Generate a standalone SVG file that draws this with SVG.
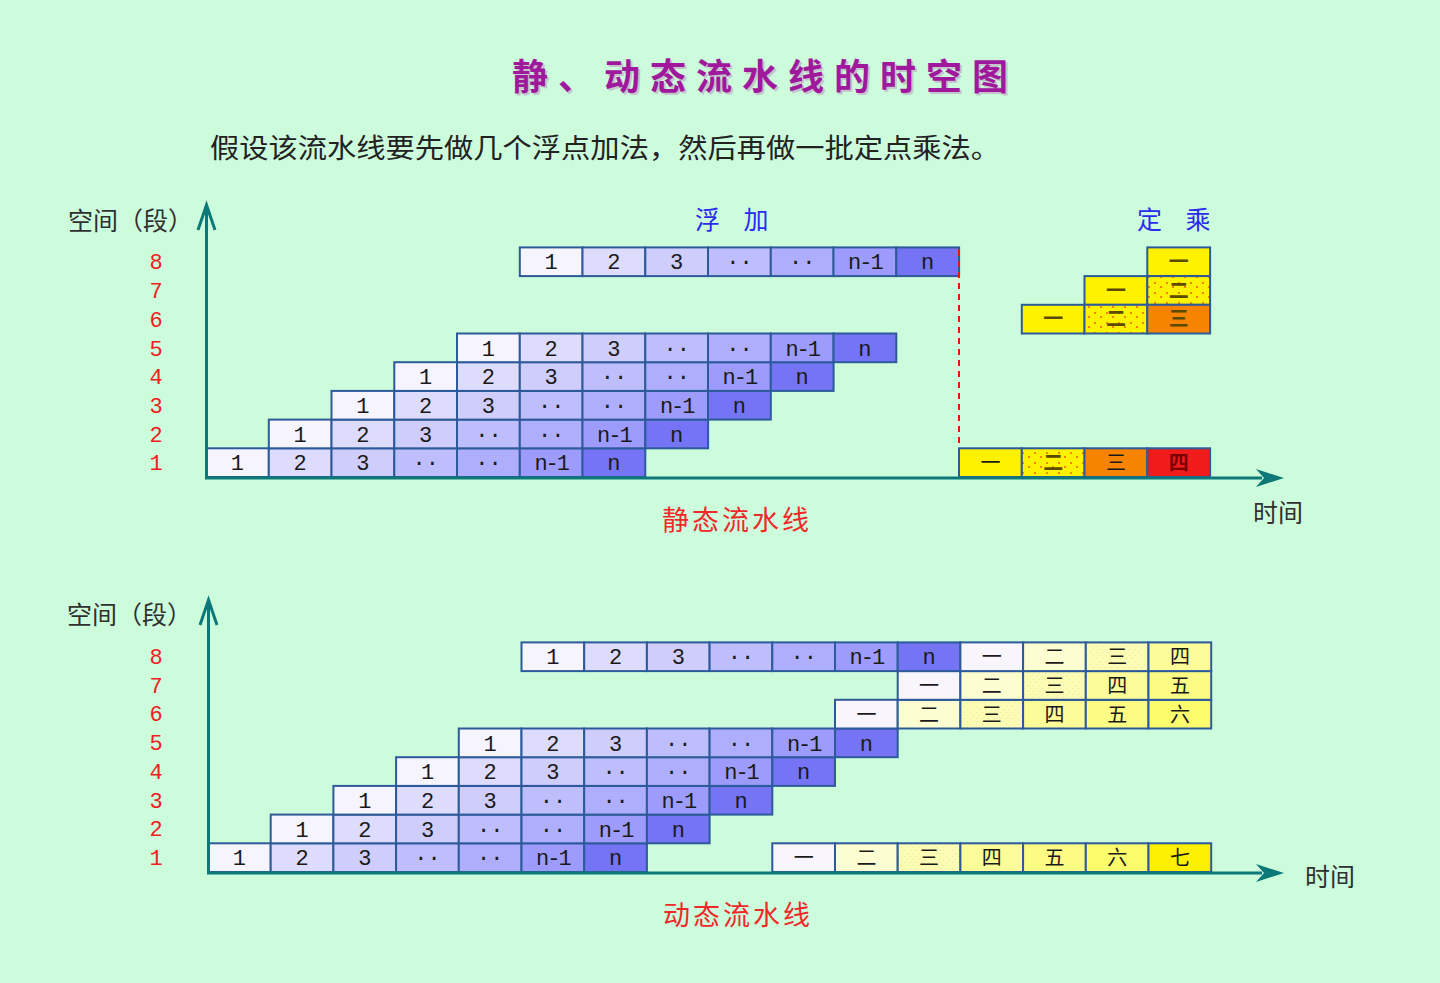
<svg xmlns="http://www.w3.org/2000/svg" width="1440" height="983" viewBox="0 0 1440 983">
<defs>
<pattern id="dots" width="12" height="10" patternUnits="userSpaceOnUse"><rect width="12" height="10" fill="#fff200"/><rect x="2" y="2" width="2" height="2" fill="#f78400"/><rect x="8" y="6" width="2" height="2" fill="#f78400"/></pattern>
<pattern id="ldots" width="6" height="6" patternUnits="userSpaceOnUse"><rect width="6" height="6" fill="#fcfcb4"/><rect x="1" y="1" width="1" height="1" fill="#eaea9a"/><rect x="4" y="4" width="1" height="1" fill="#eaea9a"/></pattern>
<style>
g rect{stroke:#2d5a9a;stroke-width:2}
.b1{fill:#f6f4fc}.b2{fill:#dedcfc}.b3{fill:#cfcdfc}.b4{fill:#bfbefc}.b5{fill:#afaefc}.b6{fill:#9d9cfc}.b7{fill:#7474f4}
.y1{fill:#fff200}.y2{fill:url(#dots)}.y3{fill:#f78400}.y4{fill:#f01c1c}
.z1{fill:#f8f6fc}.z2{fill:#fdfdd2}.z3{fill:url(#ldots)}.z4{fill:#fcfc98}.z5{fill:#fcfc84}.z6{fill:#fcfc6c}.z7{fill:#fcf000}
text{text-anchor:middle}
.t{font-family:"Liberation Mono",monospace;font-size:22px;fill:#1a1a1a}
.n1{letter-spacing:-2px}
.h{font-family:"Noto Sans CJK SC",sans-serif;font-size:20px;fill:#1a1a1a}
.hy{font-family:"Noto Sans CJK SC",sans-serif;font-size:20px;fill:#5c4a00;font-weight:bold}
.hr{font-family:"Noto Sans CJK SC",sans-serif;font-size:20px;fill:#7a0000;font-weight:bold}
.rn{font-family:"Liberation Mono",monospace;font-size:22px;fill:#f02020}
.lab{font-family:"Noto Sans CJK SC",sans-serif;font-size:25px;fill:#303030;text-anchor:start}
.blue{font-family:"Noto Sans CJK SC",sans-serif;font-size:25px;fill:#2a2af0;text-anchor:start;letter-spacing:9px}
.red{font-family:"Noto Sans CJK SC",sans-serif;font-size:27px;fill:#f02828;text-anchor:start;letter-spacing:3px}
.ax{stroke:#0c7878;stroke-width:3;fill:none}
.ah{fill:#0c7878}
</style>
</defs>
<rect x="0" y="0" width="1440" height="983" fill="#ccfcdc"/>

<g id="title">
<text x="765" y="90" style="font-family:'Noto Sans CJK SC',sans-serif;font-size:36px;font-weight:bold;fill:#c4c4cc;letter-spacing:10px" transform="translate(2,2)">静、动态流水线的时空图</text>
<text x="765" y="90" style="font-family:'Noto Sans CJK SC',sans-serif;font-size:36px;font-weight:bold;fill:#a0189c;letter-spacing:10px">静、动态流水线的时空图</text>
</g>
<g id="subtitle"><text x="210" y="158" textLength="790" lengthAdjust="spacingAndGlyphs" style="font-family:'Noto Sans CJK SC',sans-serif;font-size:27px;fill:#222;text-anchor:start">假设该流水线要先做几个浮点加法，然后再做一批定点乘法。</text></g>

<!-- ===== STATIC ===== -->
<g id="static-labels">
<text class="lab" x="68" y="230">空间（段）</text>
<text class="rn" x="156" y="269">8</text><text class="rn" x="156" y="298">7</text><text class="rn" x="156" y="327">6</text><text class="rn" x="156" y="356">5</text><text class="rn" x="156" y="384">4</text><text class="rn" x="156" y="413">3</text><text class="rn" x="156" y="442">2</text><text class="rn" x="156" y="470">1</text>
<text class="blue" x="695" y="229">浮 加</text>
<text class="blue" x="1137" y="229">定 乘</text>
<text class="red" x="662" y="530">静态流水线</text>
<text class="lab" x="1253" y="522">时间</text>
</g>

<g id="s-r1">
<g id="s-r1-1"><rect class="b1" x="206" y="448.3" width="62.8" height="28.7"/><text class="t" x="237.4" y="470.3">1</text></g>
<g id="s-r1-2"><rect class="b2" x="268.8" y="448.3" width="62.8" height="28.7"/><text class="t" x="300.2" y="470.3">2</text></g>
<g id="s-r1-3"><rect class="b3" x="331.5" y="448.3" width="62.8" height="28.7"/><text class="t" x="362.9" y="470.3">3</text></g>
<g id="s-r1-4"><rect class="b4" x="394.3" y="448.3" width="62.8" height="28.7"/><text class="t" x="425.7" y="470.3">··</text></g>
<g id="s-r1-5"><rect class="b5" x="457" y="448.3" width="62.8" height="28.7"/><text class="t" x="488.4" y="470.3">··</text></g>
<g id="s-r1-6"><rect class="b6" x="519.8" y="448.3" width="62.8" height="28.7"/><text class="t n1" x="551.2" y="470.3">n-1</text></g>
<g id="s-r1-7"><rect class="b7" x="582.5" y="448.3" width="62.8" height="28.7"/><text class="t" x="613.9" y="470.3">n</text></g>
</g>
<g id="s-r2">
<g id="s-r2-1"><rect class="b1" x="268.8" y="419.6" width="62.8" height="28.7"/><text class="t" x="300.2" y="441.6">1</text></g>
<g id="s-r2-2"><rect class="b2" x="331.5" y="419.6" width="62.8" height="28.7"/><text class="t" x="362.9" y="441.6">2</text></g>
<g id="s-r2-3"><rect class="b3" x="394.3" y="419.6" width="62.8" height="28.7"/><text class="t" x="425.7" y="441.6">3</text></g>
<g id="s-r2-4"><rect class="b4" x="457" y="419.6" width="62.8" height="28.7"/><text class="t" x="488.4" y="441.6">··</text></g>
<g id="s-r2-5"><rect class="b5" x="519.8" y="419.6" width="62.8" height="28.7"/><text class="t" x="551.2" y="441.6">··</text></g>
<g id="s-r2-6"><rect class="b6" x="582.5" y="419.6" width="62.8" height="28.7"/><text class="t n1" x="613.9" y="441.6">n-1</text></g>
<g id="s-r2-7"><rect class="b7" x="645.3" y="419.6" width="62.8" height="28.7"/><text class="t" x="676.7" y="441.6">n</text></g>
</g>
<g id="s-r3">
<g id="s-r3-1"><rect class="b1" x="331.5" y="390.9" width="62.8" height="28.7"/><text class="t" x="362.9" y="412.9">1</text></g>
<g id="s-r3-2"><rect class="b2" x="394.3" y="390.9" width="62.8" height="28.7"/><text class="t" x="425.7" y="412.9">2</text></g>
<g id="s-r3-3"><rect class="b3" x="457" y="390.9" width="62.8" height="28.7"/><text class="t" x="488.4" y="412.9">3</text></g>
<g id="s-r3-4"><rect class="b4" x="519.8" y="390.9" width="62.8" height="28.7"/><text class="t" x="551.2" y="412.9">··</text></g>
<g id="s-r3-5"><rect class="b5" x="582.5" y="390.9" width="62.8" height="28.7"/><text class="t" x="613.9" y="412.9">··</text></g>
<g id="s-r3-6"><rect class="b6" x="645.3" y="390.9" width="62.8" height="28.7"/><text class="t n1" x="676.7" y="412.9">n-1</text></g>
<g id="s-r3-7"><rect class="b7" x="708" y="390.9" width="62.8" height="28.7"/><text class="t" x="739.4" y="412.9">n</text></g>
</g>
<g id="s-r4">
<g id="s-r4-1"><rect class="b1" x="394.3" y="362.2" width="62.8" height="28.7"/><text class="t" x="425.7" y="384.2">1</text></g>
<g id="s-r4-2"><rect class="b2" x="457" y="362.2" width="62.8" height="28.7"/><text class="t" x="488.4" y="384.2">2</text></g>
<g id="s-r4-3"><rect class="b3" x="519.8" y="362.2" width="62.8" height="28.7"/><text class="t" x="551.2" y="384.2">3</text></g>
<g id="s-r4-4"><rect class="b4" x="582.5" y="362.2" width="62.8" height="28.7"/><text class="t" x="613.9" y="384.2">··</text></g>
<g id="s-r4-5"><rect class="b5" x="645.3" y="362.2" width="62.8" height="28.7"/><text class="t" x="676.7" y="384.2">··</text></g>
<g id="s-r4-6"><rect class="b6" x="708" y="362.2" width="62.8" height="28.7"/><text class="t n1" x="739.4" y="384.2">n-1</text></g>
<g id="s-r4-7"><rect class="b7" x="770.8" y="362.2" width="62.8" height="28.7"/><text class="t" x="802.2" y="384.2">n</text></g>
</g>
<g id="s-r5">
<g id="s-r5-1"><rect class="b1" x="457" y="333.5" width="62.8" height="28.7"/><text class="t" x="488.4" y="355.5">1</text></g>
<g id="s-r5-2"><rect class="b2" x="519.8" y="333.5" width="62.8" height="28.7"/><text class="t" x="551.2" y="355.5">2</text></g>
<g id="s-r5-3"><rect class="b3" x="582.5" y="333.5" width="62.8" height="28.7"/><text class="t" x="613.9" y="355.5">3</text></g>
<g id="s-r5-4"><rect class="b4" x="645.3" y="333.5" width="62.8" height="28.7"/><text class="t" x="676.7" y="355.5">··</text></g>
<g id="s-r5-5"><rect class="b5" x="708" y="333.5" width="62.8" height="28.7"/><text class="t" x="739.4" y="355.5">··</text></g>
<g id="s-r5-6"><rect class="b6" x="770.8" y="333.5" width="62.8" height="28.7"/><text class="t n1" x="802.2" y="355.5">n-1</text></g>
<g id="s-r5-7"><rect class="b7" x="833.5" y="333.5" width="62.8" height="28.7"/><text class="t" x="864.9" y="355.5">n</text></g>
</g>
<g id="s-r8">
<g id="s-r8-1"><rect class="b1" x="519.8" y="247.4" width="62.8" height="28.7"/><text class="t" x="551.2" y="269.4">1</text></g>
<g id="s-r8-2"><rect class="b2" x="582.5" y="247.4" width="62.8" height="28.7"/><text class="t" x="613.9" y="269.4">2</text></g>
<g id="s-r8-3"><rect class="b3" x="645.3" y="247.4" width="62.8" height="28.7"/><text class="t" x="676.7" y="269.4">3</text></g>
<g id="s-r8-4"><rect class="b4" x="708" y="247.4" width="62.8" height="28.7"/><text class="t" x="739.4" y="269.4">··</text></g>
<g id="s-r8-5"><rect class="b5" x="770.8" y="247.4" width="62.8" height="28.7"/><text class="t" x="802.2" y="269.4">··</text></g>
<g id="s-r8-6"><rect class="b6" x="833.5" y="247.4" width="62.8" height="28.7"/><text class="t n1" x="864.9" y="269.4">n-1</text></g>
<g id="s-r8-7"><rect class="b7" x="896.3" y="247.4" width="62.8" height="28.7"/><text class="t" x="927.7" y="269.4">n</text></g>
</g>
<g id="s-mul">
<g id="s-m8-1"><rect class="y1" x="1147.3" y="247.4" width="62.8" height="28.7"/><text class="hy" x="1178.7" y="269">一</text></g>
<g id="s-m7-1"><rect class="y1" x="1084.5" y="276.1" width="62.8" height="28.7"/><text class="hy" x="1115.9" y="297.7">一</text></g>
<g id="s-m7-2"><rect class="y2" x="1147.3" y="276.1" width="62.8" height="28.7"/><text class="hy" x="1178.7" y="297.7">二</text></g>
<g id="s-m6-1"><rect class="y1" x="1021.8" y="304.8" width="62.8" height="28.7"/><text class="hy" x="1053.2" y="326.4">一</text></g>
<g id="s-m6-2"><rect class="y2" x="1084.5" y="304.8" width="62.8" height="28.7"/><text class="hy" x="1115.9" y="326.4">二</text></g>
<g id="s-m6-3"><rect class="y3" x="1147.3" y="304.8" width="62.8" height="28.7"/><text class="hy" x="1178.7" y="326.4">三</text></g>
<g id="s-m1-1"><rect class="y1" x="959" y="448.3" width="62.8" height="28.7"/><text class="h" x="990.4" y="469.9">一</text></g>
<g id="s-m1-2"><rect class="y2" x="1021.8" y="448.3" width="62.8" height="28.7"/><text class="hy" x="1053.2" y="469.9">二</text></g>
<g id="s-m1-3"><rect class="y3" x="1084.5" y="448.3" width="62.8" height="28.7"/><text class="h" x="1115.9" y="469.9">三</text></g>
<g id="s-m1-4"><rect class="y4" x="1147.3" y="448.3" width="62.8" height="28.7"/><text class="hr" x="1178.7" y="469.9">四</text></g>
</g>

<g id="static-connectors">
<line x1="959" y1="250" x2="959" y2="448" stroke="#f01010" stroke-width="2" stroke-dasharray="6,5"/>
<path class="ax" d="M206.5,207 V478 H1262"/>
<path class="ax" d="M198,230 L206.5,205 L215,230"/>
<polygon class="ah" points="1284,478 1256,469 1264,478 1256,487"/>
</g>

<!-- ===== DYNAMIC ===== -->
<g id="dynamic-labels">
<text class="lab" x="67" y="624">空间（段）</text>
<text class="rn" x="156" y="664">8</text><text class="rn" x="156" y="693">7</text><text class="rn" x="156" y="721">6</text><text class="rn" x="156" y="750">5</text><text class="rn" x="156" y="779">4</text><text class="rn" x="156" y="808">3</text><text class="rn" x="156" y="836">2</text><text class="rn" x="156" y="865">1</text>
<text class="red" x="663" y="925">动态流水线</text>
<text class="lab" x="1305" y="886">时间</text>
</g>

<g id="d-r1">
<g id="d-r1-1"><rect class="b1" x="208" y="843.3" width="62.7" height="28.7"/><text class="t" x="239.4" y="865.3">1</text></g>
<g id="d-r1-2"><rect class="b2" x="270.7" y="843.3" width="62.7" height="28.7"/><text class="t" x="302.1" y="865.3">2</text></g>
<g id="d-r1-3"><rect class="b3" x="333.4" y="843.3" width="62.7" height="28.7"/><text class="t" x="364.8" y="865.3">3</text></g>
<g id="d-r1-4"><rect class="b4" x="396.1" y="843.3" width="62.7" height="28.7"/><text class="t" x="427.5" y="865.3">··</text></g>
<g id="d-r1-5"><rect class="b5" x="458.8" y="843.3" width="62.7" height="28.7"/><text class="t" x="490.2" y="865.3">··</text></g>
<g id="d-r1-6"><rect class="b6" x="521.5" y="843.3" width="62.7" height="28.7"/><text class="t n1" x="552.9" y="865.3">n-1</text></g>
<g id="d-r1-7"><rect class="b7" x="584.2" y="843.3" width="62.7" height="28.7"/><text class="t" x="615.6" y="865.3">n</text></g>
<g id="d-r1-8"><rect class="z1" x="772.3" y="843.3" width="62.7" height="28.7"/><text class="h" x="803.7" y="865">一</text></g>
<g id="d-r1-9"><rect class="z2" x="835" y="843.3" width="62.7" height="28.7"/><text class="h" x="866.4" y="865">二</text></g>
<g id="d-r1-10"><rect class="z3" x="897.7" y="843.3" width="62.7" height="28.7"/><text class="h" x="929.1" y="865">三</text></g>
<g id="d-r1-11"><rect class="z4" x="960.4" y="843.3" width="62.7" height="28.7"/><text class="h" x="991.8" y="865">四</text></g>
<g id="d-r1-12"><rect class="z5" x="1023.1" y="843.3" width="62.7" height="28.7"/><text class="h" x="1054.5" y="865">五</text></g>
<g id="d-r1-13"><rect class="z6" x="1085.8" y="843.3" width="62.7" height="28.7"/><text class="h" x="1117.2" y="865">六</text></g>
<g id="d-r1-14"><rect class="z7" x="1148.5" y="843.3" width="62.7" height="28.7"/><text class="h" x="1179.9" y="865">七</text></g>
</g>
<g id="d-r2">
<g id="d-r2-1"><rect class="b1" x="270.7" y="814.6" width="62.7" height="28.7"/><text class="t" x="302.1" y="836.6">1</text></g>
<g id="d-r2-2"><rect class="b2" x="333.4" y="814.6" width="62.7" height="28.7"/><text class="t" x="364.8" y="836.6">2</text></g>
<g id="d-r2-3"><rect class="b3" x="396.1" y="814.6" width="62.7" height="28.7"/><text class="t" x="427.5" y="836.6">3</text></g>
<g id="d-r2-4"><rect class="b4" x="458.8" y="814.6" width="62.7" height="28.7"/><text class="t" x="490.2" y="836.6">··</text></g>
<g id="d-r2-5"><rect class="b5" x="521.5" y="814.6" width="62.7" height="28.7"/><text class="t" x="552.9" y="836.6">··</text></g>
<g id="d-r2-6"><rect class="b6" x="584.2" y="814.6" width="62.7" height="28.7"/><text class="t n1" x="615.6" y="836.6">n-1</text></g>
<g id="d-r2-7"><rect class="b7" x="646.9" y="814.6" width="62.7" height="28.7"/><text class="t" x="678.3" y="836.6">n</text></g>
</g>
<g id="d-r3">
<g id="d-r3-1"><rect class="b1" x="333.4" y="785.9" width="62.7" height="28.7"/><text class="t" x="364.8" y="807.9">1</text></g>
<g id="d-r3-2"><rect class="b2" x="396.1" y="785.9" width="62.7" height="28.7"/><text class="t" x="427.5" y="807.9">2</text></g>
<g id="d-r3-3"><rect class="b3" x="458.8" y="785.9" width="62.7" height="28.7"/><text class="t" x="490.2" y="807.9">3</text></g>
<g id="d-r3-4"><rect class="b4" x="521.5" y="785.9" width="62.7" height="28.7"/><text class="t" x="552.9" y="807.9">··</text></g>
<g id="d-r3-5"><rect class="b5" x="584.2" y="785.9" width="62.7" height="28.7"/><text class="t" x="615.6" y="807.9">··</text></g>
<g id="d-r3-6"><rect class="b6" x="646.9" y="785.9" width="62.7" height="28.7"/><text class="t n1" x="678.3" y="807.9">n-1</text></g>
<g id="d-r3-7"><rect class="b7" x="709.6" y="785.9" width="62.7" height="28.7"/><text class="t" x="741" y="807.9">n</text></g>
</g>
<g id="d-r4">
<g id="d-r4-1"><rect class="b1" x="396.1" y="757.2" width="62.7" height="28.7"/><text class="t" x="427.5" y="779.2">1</text></g>
<g id="d-r4-2"><rect class="b2" x="458.8" y="757.2" width="62.7" height="28.7"/><text class="t" x="490.2" y="779.2">2</text></g>
<g id="d-r4-3"><rect class="b3" x="521.5" y="757.2" width="62.7" height="28.7"/><text class="t" x="552.9" y="779.2">3</text></g>
<g id="d-r4-4"><rect class="b4" x="584.2" y="757.2" width="62.7" height="28.7"/><text class="t" x="615.6" y="779.2">··</text></g>
<g id="d-r4-5"><rect class="b5" x="646.9" y="757.2" width="62.7" height="28.7"/><text class="t" x="678.3" y="779.2">··</text></g>
<g id="d-r4-6"><rect class="b6" x="709.6" y="757.2" width="62.7" height="28.7"/><text class="t n1" x="741" y="779.2">n-1</text></g>
<g id="d-r4-7"><rect class="b7" x="772.3" y="757.2" width="62.7" height="28.7"/><text class="t" x="803.7" y="779.2">n</text></g>
</g>
<g id="d-r5">
<g id="d-r5-1"><rect class="b1" x="458.8" y="728.5" width="62.7" height="28.7"/><text class="t" x="490.2" y="750.5">1</text></g>
<g id="d-r5-2"><rect class="b2" x="521.5" y="728.5" width="62.7" height="28.7"/><text class="t" x="552.9" y="750.5">2</text></g>
<g id="d-r5-3"><rect class="b3" x="584.2" y="728.5" width="62.7" height="28.7"/><text class="t" x="615.6" y="750.5">3</text></g>
<g id="d-r5-4"><rect class="b4" x="646.9" y="728.5" width="62.7" height="28.7"/><text class="t" x="678.3" y="750.5">··</text></g>
<g id="d-r5-5"><rect class="b5" x="709.6" y="728.5" width="62.7" height="28.7"/><text class="t" x="741" y="750.5">··</text></g>
<g id="d-r5-6"><rect class="b6" x="772.3" y="728.5" width="62.7" height="28.7"/><text class="t n1" x="803.7" y="750.5">n-1</text></g>
<g id="d-r5-7"><rect class="b7" x="835" y="728.5" width="62.7" height="28.7"/><text class="t" x="866.4" y="750.5">n</text></g>
</g>
<g id="d-r6">
<g id="d-r6-1"><rect class="z1" x="835" y="699.8" width="62.7" height="28.7"/><text class="h" x="866.4" y="721.5">一</text></g>
<g id="d-r6-2"><rect class="z2" x="897.7" y="699.8" width="62.7" height="28.7"/><text class="h" x="929.1" y="721.5">二</text></g>
<g id="d-r6-3"><rect class="z3" x="960.4" y="699.8" width="62.7" height="28.7"/><text class="h" x="991.8" y="721.5">三</text></g>
<g id="d-r6-4"><rect class="z4" x="1023.1" y="699.8" width="62.7" height="28.7"/><text class="h" x="1054.5" y="721.5">四</text></g>
<g id="d-r6-5"><rect class="z5" x="1085.8" y="699.8" width="62.7" height="28.7"/><text class="h" x="1117.2" y="721.5">五</text></g>
<g id="d-r6-6"><rect class="z6" x="1148.5" y="699.8" width="62.7" height="28.7"/><text class="h" x="1179.9" y="721.5">六</text></g>
</g>
<g id="d-r7">
<g id="d-r7-1"><rect class="z1" x="897.7" y="671.1" width="62.7" height="28.7"/><text class="h" x="929.1" y="692.8">一</text></g>
<g id="d-r7-2"><rect class="z2" x="960.4" y="671.1" width="62.7" height="28.7"/><text class="h" x="991.8" y="692.8">二</text></g>
<g id="d-r7-3"><rect class="z3" x="1023.1" y="671.1" width="62.7" height="28.7"/><text class="h" x="1054.5" y="692.8">三</text></g>
<g id="d-r7-4"><rect class="z4" x="1085.8" y="671.1" width="62.7" height="28.7"/><text class="h" x="1117.2" y="692.8">四</text></g>
<g id="d-r7-5"><rect class="z5" x="1148.5" y="671.1" width="62.7" height="28.7"/><text class="h" x="1179.9" y="692.8">五</text></g>
</g>
<g id="d-r8">
<g id="d-r8-1"><rect class="b1" x="521.5" y="642.4" width="62.7" height="28.7"/><text class="t" x="552.9" y="664.4">1</text></g>
<g id="d-r8-2"><rect class="b2" x="584.2" y="642.4" width="62.7" height="28.7"/><text class="t" x="615.6" y="664.4">2</text></g>
<g id="d-r8-3"><rect class="b3" x="646.9" y="642.4" width="62.7" height="28.7"/><text class="t" x="678.3" y="664.4">3</text></g>
<g id="d-r8-4"><rect class="b4" x="709.6" y="642.4" width="62.7" height="28.7"/><text class="t" x="741" y="664.4">··</text></g>
<g id="d-r8-5"><rect class="b5" x="772.3" y="642.4" width="62.7" height="28.7"/><text class="t" x="803.7" y="664.4">··</text></g>
<g id="d-r8-6"><rect class="b6" x="835" y="642.4" width="62.7" height="28.7"/><text class="t n1" x="866.4" y="664.4">n-1</text></g>
<g id="d-r8-7"><rect class="b7" x="897.7" y="642.4" width="62.7" height="28.7"/><text class="t" x="929.1" y="664.4">n</text></g>
<g id="d-r8-8"><rect class="z1" x="960.4" y="642.4" width="62.7" height="28.7"/><text class="h" x="991.8" y="664">一</text></g>
<g id="d-r8-9"><rect class="z2" x="1023.1" y="642.4" width="62.7" height="28.7"/><text class="h" x="1054.5" y="664">二</text></g>
<g id="d-r8-10"><rect class="z3" x="1085.8" y="642.4" width="62.7" height="28.7"/><text class="h" x="1117.2" y="664">三</text></g>
<g id="d-r8-11"><rect class="z4" x="1148.5" y="642.4" width="62.7" height="28.7"/><text class="h" x="1179.9" y="664">四</text></g>
</g>

<g id="dynamic-connectors">
<path class="ax" d="M208.5,602 V873 H1262"/>
<path class="ax" d="M200,625 L208.5,600 L217,625"/>
<polygon class="ah" points="1284,873 1256,864 1264,873 1256,882"/>
</g>
</svg>
